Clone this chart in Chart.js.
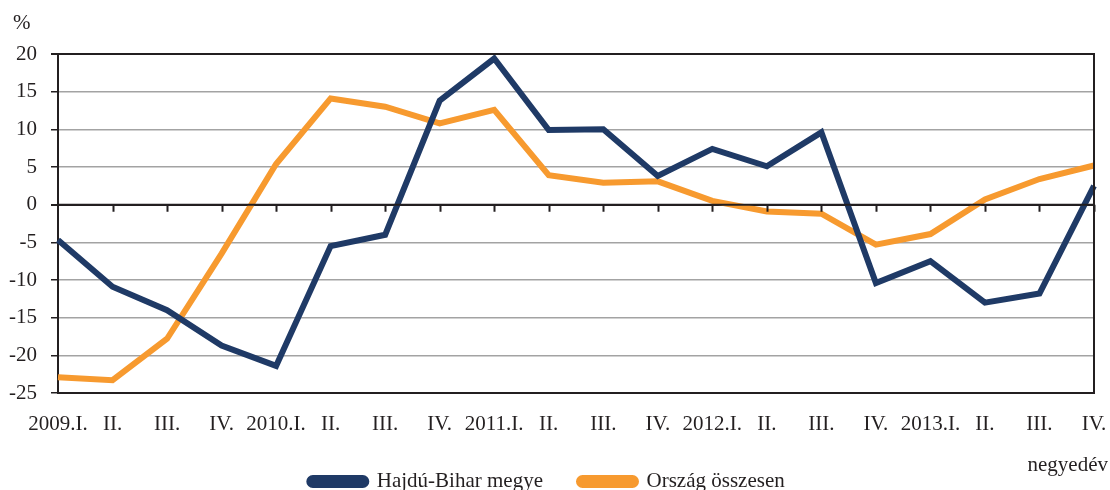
<!DOCTYPE html>
<html>
<head>
<meta charset="utf-8">
<script src="https://cdn.jsdelivr.net/npm/chart.js@4/dist/chart.umd.min.js"></script>
<style>
  html, body { margin: 0; padding: 0; background: #fff; }
  #wrap { width: 1110px; height: 490px; }
</style>
</head>
<body>
<div id="wrap"><canvas id="line-chart"></canvas></div>
<script>
// negyedévek
const quarters = [
  '2009.I.', 'II.', 'III.', 'IV.',
  '2010.I.', 'II.', 'III.', 'IV.',
  '2011.I.', 'II.', 'III.', 'IV.',
  '2012.I.', 'II.', 'III.', 'IV.',
  '2013.I.', 'II.', 'III.', 'IV.'
];
const hajduBihar = [-4.7, -10.9, -14.0, -18.7, -21.4, -5.5, -4.0, 13.8, 19.4, 9.9,
  10.0, 3.8, 7.4, 5.1, 9.6, -10.4, -7.5, -13.0, -11.8, 2.5];
const orszag = [-22.9, -23.3, -17.8, -6.5, 5.4, 14.1, 13.0, 10.8, 12.6, 3.9,
  2.9, 3.1, 0.5, -0.9, -1.2, -5.3, -3.9, 0.7, 3.4, 5.2];
const yMin = -25;
const yMax = 20;
const yStep = 5;

const serif = "'Liberation Serif', 'DejaVu Serif', serif";
const dark = '#231f20';

// keret, nulla vonal, tengely jelölések, feliratok
const framePlugin = {
  id: 'frame',
  afterDraw: function (chart) {
    const ctx = chart.ctx;
    const area = chart.chartArea;
    const x = chart.scales.x;
    const y0 = chart.scales.y.getPixelForValue(0);
    ctx.save();
    ctx.strokeStyle = dark;
    ctx.lineWidth = 2;
    ctx.beginPath();
    ctx.moveTo(area.left, area.top);
    ctx.lineTo(area.right, area.top);
    ctx.lineTo(area.right, area.bottom);
    ctx.moveTo(area.left, y0);
    ctx.lineTo(area.right, y0);
    for (let i = 1; i < quarters.length; i++) {
      const px = Math.round(x.getPixelForTick(i)) + 0.5;
      ctx.moveTo(px, y0);
      ctx.lineTo(px, y0 + 7);
    }
    ctx.stroke();
    ctx.fillStyle = dark;
    ctx.font = '21px ' + serif;
    ctx.textBaseline = 'middle';
    ctx.textAlign = 'left';
    ctx.fillText('%', 13, 23);
    ctx.textAlign = 'right';
    ctx.fillText('negyedév', 1108, 465);
    ctx.restore();
  },
};

const lineData = {
  labels: quarters,
  datasets: [
    {
      label: 'Hajdú-Bihar megye',
      data: hajduBihar,
      borderColor: '#1f3a66',
      backgroundColor: '#1f3a66',
      borderWidth: 6,
      pointRadius: 0,
      tension: 0,
    },
    {
      label: 'Ország összesen',
      data: orszag,
      borderColor: '#f79a2f',
      backgroundColor: '#f79a2f',
      borderWidth: 6,
      pointRadius: 0,
      tension: 0,
    },
  ],
};

const lineConfig = {
  type: 'line',
  data: lineData,
  plugins: [framePlugin],
  options: {
    responsive: true,
    maintainAspectRatio: false,
    animation: false,
    layout: {
      padding: { top: 54, right: 16, bottom: -12, left: 0 },
    },
    scales: {
      x: {
        offset: false,
        grid: { display: false },
        border: { display: true, color: dark, width: 2 },
        ticks: {
          autoSkip: false,
          maxRotation: 0,
          padding: 11,
          color: dark,
          font: { family: serif, size: 21 },
        },
        afterFit: function (scale) {
          scale.height = 42;
          scale.paddingLeft = 0;
          scale.paddingRight = 0;
        },
      },
      y: {
        min: yMin,
        max: yMax,
        grid: {
          color: function (c) {
            return c.tick.value === 0 || c.tick.value === yMax ? dark : '#a3a3a3';
          },
          lineWidth: function (c) {
            return c.tick.value === 0 || c.tick.value === yMax ? 2 : 1.5;
          },
          tickColor: dark,
          tickLength: 7,
        },
        border: { display: true, color: dark, width: 2 },
        ticks: {
          stepSize: yStep,
          padding: 14,
          color: dark,
          font: { family: serif, size: 21 },
        },
        afterFit: function (scale) {
          scale.width = 58;
        },
      },
    },
    plugins: {
      tooltip: { enabled: false },
      legend: {
        position: 'bottom',
        labels: {
          boxWidth: 57,
          boxHeight: 7,
          useBorderRadius: true,
          borderRadius: 3.5,
          padding: 36,
          color: dark,
          font: { family: serif, size: 21 },
        },
      },
    },
  },
};

let ctx = document.getElementById('line-chart');
const lineChart = new Chart(ctx, lineConfig);
</script>
</body>
</html>
